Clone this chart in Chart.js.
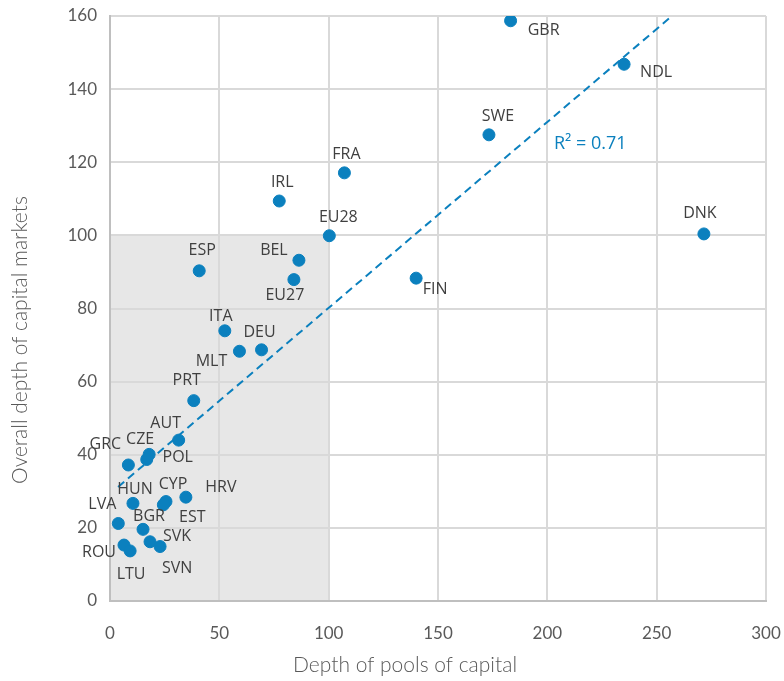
<!DOCTYPE html>
<html>
<head>
<meta charset="utf-8">
<script src="https://cdn.jsdelivr.net/npm/chart.js@4/dist/chart.umd.min.js"></script>
<style>
  html, body { margin: 0; padding: 0; background: #fff; }
  #wrap { width: 784px; height: 681px; }
</style>
</head>
<body>
<div id="wrap"><canvas id="depthChart" width="784" height="681"></canvas></div>
<script>
// values
const countries   = ['GBR', 'NDL', 'SWE', 'FRA', 'IRL', 'EU28', 'DNK', 'FIN', 'ESP', 'BEL', 'EU27', 'ITA', 'MLT', 'DEU', 'PRT',
                     'AUT', 'CZE', 'POL', 'GRC', 'HUN', 'CYP', 'EST', 'HRV', 'LVA', 'BGR', 'SVK', 'SVN', 'ROU', 'LTU'];
const poolDepth   = [183.2, 235.1, 173.3, 107.2, 77.4, 100.3, 271.6, 140.0, 40.8, 86.4, 84.1, 52.5, 59.2, 69.3, 38.3,
                     31.4, 17.9, 16.8, 8.4, 10.5, 25.6, 24.4, 34.7, 3.8, 15.1, 18.3, 22.9, 6.4, 9.2];
const marketDepth = [158.7, 146.8, 127.5, 117.1, 109.4, 99.9, 100.4, 88.3, 90.3, 93.2, 87.9, 73.9, 68.3, 68.7, 54.8,
                     44.0, 40.1, 38.7, 37.2, 26.7, 27.2, 26.3, 28.4, 21.2, 19.6, 16.2, 14.9, 15.3, 13.7];

// fitted trend line end points, as drawn
const trendX = [3.7, 257];
const trendY = [31.2, 160];
const rSquared = 'R² = 0.71';

const xTicks = [0, 50, 100, 150, 200, 250, 300];
const yTicks = [0, 20, 40, 60, 80, 100, 120, 140, 160];
const xTitle = 'Depth of pools of capital';
const yTitle = 'Overall depth of capital markets';

// label offsets from the dot centre (px)
const labelOffsets = {
  GBR: [33, 10], NDL: [32, 8], SWE: [9, -18], FRA: [2, -18], IRL: [3, -19], EU28: [9, -18],
  DNK: [-4, -20], FIN: [19, 11], ESP: [3, -20], BEL: [-25, -10], EU27: [-9, 16], ITA: [-4, -14],
  MLT: [-28, 10], DEU: [-2, -17], PRT: [-7, -20], AUT: [-13, -17], CZE: [-9, -15], POL: [31, -2],
  GRC: [-23, -21], HUN: [2, -14], CYP: [7, -17], EST: [29, 13], HRV: [35, -10], LVA: [-16, -19],
  BGR: [6, -13], SVK: [27, -5], SVN: [17, 22], ROU: [-25, 7], LTU: [1, 24]
};

const blue = '#0b80be';

const shadePlugin = {
  id: 'shade',
  beforeDraw(chart) {
    const { ctx, scales: { x, y } } = chart;
    ctx.save();
    ctx.fillStyle = '#e7e7e7';
    const l = x.getPixelForValue(0), r = x.getPixelForValue(100);
    const t = y.getPixelForValue(100), b = y.getPixelForValue(0);
    ctx.fillRect(l, t, r - l, b - t);
    ctx.restore();
  }
};

const labelPlugin = {
  id: 'pointLabels',
  afterDatasetsDraw(chart) {
    const { ctx, scales: { x, y } } = chart;
    const meta = chart.getDatasetMeta(0);
    ctx.save();
    ctx.font = '16px "Open Sans"';
    ctx.fillStyle = '#404040';
    ctx.textAlign = 'center';
    ctx.textBaseline = 'middle';
    meta.data.forEach((pt, i) => {
      const off = labelOffsets[countries[i]] || [0, -18];
      ctx.fillText(countries[i], pt.x + off[0], pt.y + off[1]);
    });
    ctx.font = '18px "Open Sans"';
    ctx.fillStyle = blue;
    ctx.textAlign = 'left';
    ctx.fillText(rSquared, x.getPixelForValue(203), y.getPixelForValue(125));

    // axis titles (Excel centres them on the whole chart, not the plot)
    ctx.font = '300 21px Lato';
    ctx.fillStyle = '#595959';
    ctx.textAlign = 'center';
    ctx.fillText(xTitle, 405, 665);
    ctx.translate(20, 340);
    ctx.rotate(-Math.PI / 2);
    ctx.fillText(yTitle, 0, 0);
    ctx.restore();
  }
};

const ctxDepth = document.getElementById('depthChart').getContext('2d');
const depthChart = new Chart(ctxDepth, {
  type: 'scatter',
  data: {
    datasets: [{
      label: 'Countries',
      data: countries.map((c, i) => ({ x: poolDepth[i], y: marketDepth[i] })),
      backgroundColor: blue,
      borderColor: blue,
      pointRadius: 6,
      pointHoverRadius: 6,
      order: 1
    }, {
      label: 'Trend',
      type: 'line',
      data: trendX.map((v, i) => ({ x: v, y: trendY[i] })),
      borderColor: blue,
      borderWidth: 2,
      borderDash: [8, 5],
      pointRadius: 0,
      fill: false,
      order: 2
    }]
  },
  options: {
    responsive: false,
    animation: false,
    layout: { padding: { top: 16, right: 18, left: 0, bottom: 0 } },
    plugins: { legend: { display: false }, tooltip: { enabled: false } },
    scales: {
      x: {
        type: 'linear',
        min: 0, max: 300,
        afterBuildTicks: (s) => { s.ticks = xTicks.map(v => ({ value: v })); },
        afterFit: (s) => { s.height = 80; s.paddingLeft = 0; s.paddingRight = 0; },
        grid: { color: '#d9d9d9', lineWidth: 2, drawTicks: false },
        border: { color: '#bfbfbf', width: 2 },
        ticks: { color: '#595959', font: { family: 'Lato', size: 17 }, padding: 22, maxRotation: 0 }
      },
      y: {
        type: 'linear',
        min: 0, max: 160,
        afterBuildTicks: (s) => { s.ticks = yTicks.map(v => ({ value: v })); },
        afterFit: (s) => { s.width = 110; s.paddingTop = 0; s.paddingBottom = 0; },
        grid: { color: '#d9d9d9', lineWidth: 2, drawTicks: false },
        border: { color: '#bfbfbf', width: 2 },
        ticks: { color: '#595959', font: { family: 'Lato', size: 17 }, padding: 13 }
      }
    }
  },
  plugins: [shadePlugin, labelPlugin]
});
</script>
</body>
</html>
